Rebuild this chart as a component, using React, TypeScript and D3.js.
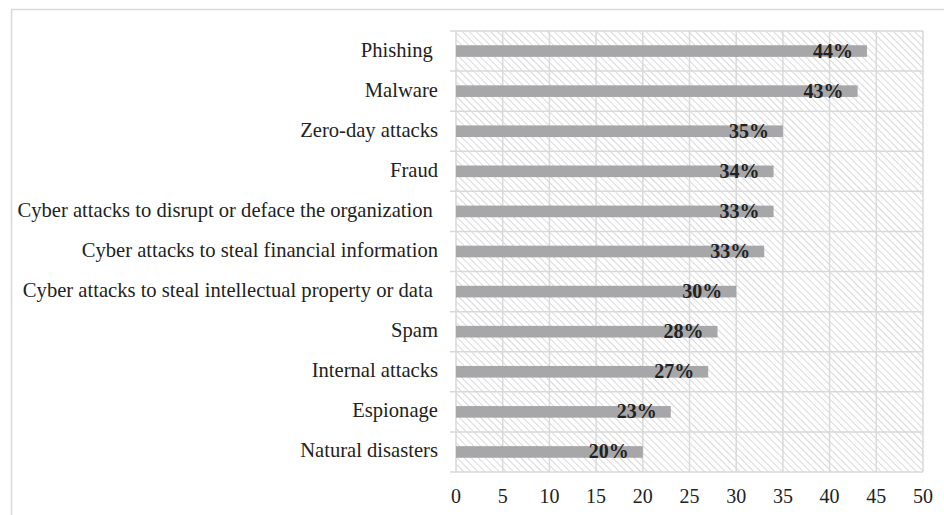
import React, { useRef, useEffect } from 'react';
import * as d3 from 'd3';

const categories = [
  'Phishing ',
  'Malware',
  'Zero-day attacks',
  'Fraud',
  'Cyber attacks to disrupt or deface the organization ',
  'Cyber attacks to steal financial information',
  'Cyber attacks to steal intellectual property or data ',
  'Spam',
  'Internal attacks',
  'Espionage',
  'Natural disasters',
];
const values = [44, 43, 35, 34, 34, 33, 30, 28, 27, 23, 20];
const valueLabels = ['44%', '43%', '35%', '34%', '33%', '33%', '30%', '28%', '27%', '23%', '20%'];
const xTicks = [0, 5, 10, 15, 20, 25, 30, 35, 40, 45, 50];

const App: React.FC = () => {
  const svgRef = useRef<SVGSVGElement | null>(null);

  useEffect(() => {
    const W = 944;
    const H = 515;
    const left = 456;
    const right = 923;
    const top = 31;
    const bottom = 472;
    const font = '"Liberation Serif", "Times New Roman", serif';
    const grid = '#d9d9d9';

    const svg = d3.select(svgRef.current).attr('width', W).attr('height', H);
    svg.selectAll('*').remove();

    const defs = svg.append('defs');
    const pat = defs
      .append('pattern')
      .attr('id', 'hatch')
      .attr('patternUnits', 'userSpaceOnUse')
      .attr('width', 5)
      .attr('height', 5)
      .attr('patternTransform', 'rotate(45)');
    pat
      .append('line')
      .attr('x1', 0)
      .attr('y1', 0.5)
      .attr('x2', 5)
      .attr('y2', 0.5)
      .attr('stroke', '#d9d9d9')
      .attr('stroke-width', 1);

    // outer frame
    svg
      .append('path')
      .attr('d', `M11.5,${H} L11.5,9.5 L${W},9.5`)
      .attr('fill', 'none')
      .attr('stroke', grid)
      .attr('stroke-width', 1.5);

    const x = d3.scaleLinear().domain([0, 50]).range([left, right]);
    const y = d3.scaleBand<string>().domain(categories).range([top, bottom]).paddingInner(0.71).paddingOuter(0.355);
    const band = d3.scaleBand<string>().domain(categories).range([top, bottom]);

    svg
      .append('rect')
      .attr('x', left)
      .attr('y', top)
      .attr('width', right - left)
      .attr('height', bottom - top)
      .attr('fill', 'url(#hatch)');

    // vertical grid
    svg
      .append('g')
      .selectAll('line')
      .data(xTicks)
      .enter()
      .append('line')
      .attr('x1', (d) => x(d))
      .attr('x2', (d) => x(d))
      .attr('y1', top)
      .attr('y2', bottom)
      .attr('stroke', grid)
      .attr('stroke-width', 1.5);

    // horizontal band lines + ticks
    const bounds = categories.map((c) => band(c)!).concat([bottom]);
    svg
      .append('g')
      .selectAll('line')
      .data(bounds)
      .enter()
      .append('line')
      .attr('x1', left - 6)
      .attr('x2', right)
      .attr('y1', (d) => d)
      .attr('y2', (d) => d)
      .attr('stroke', grid)
      .attr('stroke-width', 1.5);

    // bars
    svg
      .append('g')
      .selectAll('rect')
      .data(values)
      .enter()
      .append('rect')
      .attr('x', x(0))
      .attr('y', (d, i) => y(categories[i])!)
      .attr('width', (d) => x(d) - x(0))
      .attr('height', y.bandwidth())
      .attr('fill', '#a7a7aa');

    // value labels
    svg
      .append('g')
      .selectAll('text')
      .data(values)
      .enter()
      .append('text')
      .attr('x', (d) => x(d) - 14)
      .attr('y', (d, i) => band(categories[i])! + band.bandwidth() / 2 + 6.5)
      .attr('text-anchor', 'end')
      .style('font-family', font)
      .style('font-size', '20px')
      .style('font-weight', 'bold')
      .attr('fill', '#222')
      .text((d, i) => valueLabels[i]);

    // category labels
    svg
      .append('g')
      .selectAll('text')
      .data(categories)
      .enter()
      .append('text')
      .attr('x', 438)
      .attr('y', (d) => band(d)! + band.bandwidth() / 2 + 5.5)
      .attr('text-anchor', 'end')
      .style('font-family', font)
      .style('font-size', '20.6px')
      .style('white-space', 'pre')
      .attr('fill', '#222')
      .text((d) => d);

    // x tick labels
    svg
      .append('g')
      .selectAll('text')
      .data(xTicks)
      .enter()
      .append('text')
      .attr('x', (d) => x(d))
      .attr('y', 503)
      .attr('text-anchor', 'middle')
      .style('font-family', font)
      .style('font-size', '20px')
      .attr('fill', '#222')
      .text((d) => d);
  }, []);

  return <svg ref={svgRef} style={{ position: 'absolute', left: 0, top: 0 }}></svg>;
};

export default App;
